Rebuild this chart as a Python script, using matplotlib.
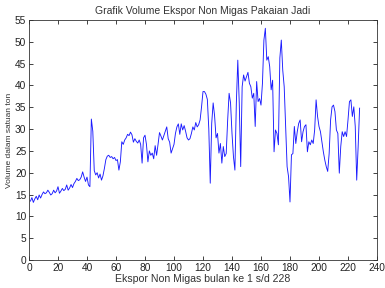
import matplotlib
matplotlib.use("Agg")
import matplotlib.pyplot as plt
import numpy as np

title = "Grafik Volume Ekspor Non Migas Pakaian Jadi"
xlabel = "Ekspor Non Migas bulan ke 1 s/d 228"
ylabel = "Volume dalam satuan ton"

volume = [
    13.5, 14.3, 13.2, 14.0, 14.6, 13.8, 14.9, 14.2, 15.0, 15.6,
    15.2, 15.4, 16.0, 15.5, 14.9, 15.2, 16.0, 15.4, 15.8, 16.8,
    15.3, 15.8, 16.4, 15.9, 16.2, 17.2, 16.0, 16.5, 17.3, 16.6,
    17.5, 18.0, 18.7, 18.2, 18.4, 19.0, 20.2, 19.0, 18.0, 19.0,
    17.2, 16.8, 32.3, 29.5, 20.5, 19.5, 20.0, 18.8, 19.7, 18.3,
    19.3, 21.0, 23.0, 23.8, 24.0, 23.5, 23.7, 23.2, 23.5, 22.8,
    23.0, 20.6, 22.5, 27.1, 26.5, 27.5, 28.0, 28.8, 28.5, 29.3,
    28.7, 27.0, 27.8, 27.2, 26.8, 27.5, 26.5, 22.2, 28.0, 28.6,
    26.5, 22.5, 25.0, 24.0, 24.5, 23.2, 26.2, 24.0, 26.5, 29.2,
    28.4, 27.5, 28.5, 29.5, 30.5, 27.8, 27.0, 24.5, 25.5, 26.5,
    29.0, 30.5, 31.2, 28.8, 31.2, 29.8, 30.8, 29.5, 28.0, 27.5,
    27.8, 29.0, 30.5, 29.8, 31.5, 30.5, 31.0, 32.1, 35.1, 38.6,
    38.6, 38.0, 36.8, 30.0, 17.6, 31.3, 36.0, 33.0, 28.0, 29.0,
    24.5, 26.7, 22.2, 26.0, 23.7, 24.4, 32.0, 38.2, 36.0, 29.0,
    23.7, 20.6, 36.0, 45.8, 36.0, 21.4, 39.7, 42.4, 41.0, 42.0,
    43.0, 40.5, 39.7, 37.1, 38.2, 30.6, 40.9, 36.3, 37.0, 35.5,
    40.5, 50.4, 53.1, 45.8, 46.6, 44.3, 39.0, 41.2, 24.8, 29.8,
    29.0, 26.4, 46.3, 50.4, 43.5, 39.7, 30.2, 21.4, 19.1, 13.3,
    24.1, 24.4, 30.6, 26.7, 29.4, 31.3, 32.1, 27.1, 29.4, 30.6,
    31.0, 24.8, 27.1, 26.4, 27.5, 26.7, 29.8, 36.7, 32.9, 30.6,
    29.4, 27.1, 24.8, 22.9, 21.4, 20.3, 24.4, 32.1, 35.1, 35.5,
    34.0, 29.8, 29.0, 19.9, 26.0, 29.4, 28.3, 29.4, 28.3, 32.1,
    36.3, 36.7, 32.9, 35.1, 30.6, 18.3, 26.0, 34.8,
]
months = list(range(1, len(volume) + 1))
xticks = list(range(0, 241, 20))
yticks = list(range(0, 56, 5))

plt.rcParams['font.family'] = ['Liberation Sans', 'DejaVu Sans']

fig = plt.figure(figsize=(3.85, 2.88), dpi=100)
ax = fig.add_axes([29/385, 1 - 260/288, 348/385, 240/288])
ax.plot(months, volume, color='#1a1aff', lw=0.65)
ax.set_xlim(0, 240)
ax.set_ylim(0, 55)
ax.set_xticks(xticks)
ax.set_yticks(yticks)
ax.tick_params(direction='in', top=True, right=True, length=3, width=0.6,
               labelsize=7.3, pad=2, colors='#222222')
for s in ax.spines.values():
    s.set_linewidth(0.6)
    s.set_color('#333333')
ax.set_title(title, fontsize=7.5, color='#333333', pad=4)
ax.set_xlabel(xlabel, fontsize=7.6, color='#333333', labelpad=1)
ax.set_ylabel(ylabel, fontsize=6, color='#333333', labelpad=1)
fig.savefig('out.png', dpi=100)
